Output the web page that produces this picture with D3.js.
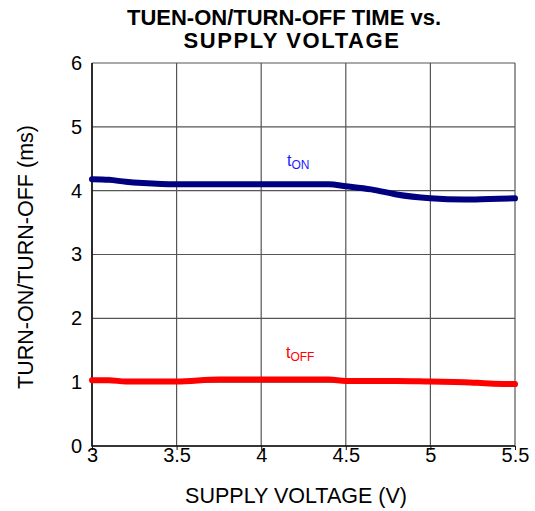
<html>
  <head>
    <meta charset="utf-8" />
    <title>Turn-on/Turn-off Time vs. Supply Voltage</title>
    <script src="https://d3js.org/d3.v7.min.js"></script>
    <style>
      body {
        margin: 0;
        background: #fff;
      }
      text {
        font-family: "Liberation Sans", Arial, sans-serif;
      }
    </style>
  </head>
  <body>
    <svg id="chart"></svg>
    <script>
      // data
      var voltage = [3.0, 3.1, 3.2, 3.3, 3.5, 3.75, 4.0, 4.2, 4.4, 4.5, 4.65, 4.8, 5.0, 5.2, 5.35, 5.5];
      var tOn = [4.18, 4.17, 4.14, 4.12, 4.10, 4.10, 4.10, 4.10, 4.10, 4.07, 4.02, 3.94, 3.88, 3.86, 3.87, 3.88];
      var tOff = [1.03, 1.03, 1.01, 1.01, 1.01, 1.04, 1.04, 1.04, 1.04, 1.02, 1.02, 1.02, 1.01, 1.00, 0.98, 0.97];
      var xTicks = [3, 3.5, 4, 4.5, 5, 5.5];
      var yTicks = [0, 1, 2, 3, 4, 5, 6];

      var width = 535;
      var height = 511;
      var margin = { top: 63, right: 20, bottom: 65, left: 92 };

      var svg = d3.select("#chart")
        .attr("width", width)
        .attr("height", height);

      var x = d3.scaleLinear()
        .domain([3, 5.5])
        .range([margin.left, width - margin.right]);

      var y = d3.scaleLinear()
        .domain([0, 6])
        .range([height - margin.bottom, margin.top]);

      // grid
      svg.append("g")
        .selectAll("line.v")
        .data(xTicks)
        .enter().append("line")
        .attr("x1", function(d) { return x(d); })
        .attr("x2", function(d) { return x(d); })
        .attr("y1", y(0))
        .attr("y2", y(6))
        .attr("stroke", "#555")
        .attr("stroke-width", 1.2);

      svg.append("g")
        .selectAll("line.h")
        .data(yTicks)
        .enter().append("line")
        .attr("x1", x(3))
        .attr("x2", x(5.5))
        .attr("y1", function(d) { return y(d); })
        .attr("y2", function(d) { return y(d); })
        .attr("stroke", "#555")
        .attr("stroke-width", 1.2);

      // left and bottom frame
      svg.append("path")
        .attr("d", "M" + x(3) + "," + y(6) + "V" + y(0) + "H" + x(5.5))
        .attr("fill", "none")
        .attr("stroke", "#111")
        .attr("stroke-width", 1.6);

      // axes
      var xAxis = d3.axisBottom(x)
        .tickValues(xTicks)
        .tickSize(4)
        .tickFormat(d3.format("~g"));
      var gx = svg.append("g")
        .attr("transform", "translate(0," + y(0) + ")")
        .call(xAxis);
      gx.select(".domain").remove();
      gx.selectAll("line").attr("stroke", "#111");
      gx.selectAll("text")
        .attr("font-size", 20)
        .attr("fill", "#000")
        .attr("dy", "0.45em");

      var yAxis = d3.axisLeft(y)
        .tickValues(yTicks)
        .tickSize(0)
        .tickPadding(10)
        .tickFormat(d3.format("d"));
      var gy = svg.append("g")
        .attr("transform", "translate(" + x(3) + ",0)")
        .call(yAxis);
      gy.select(".domain").remove();
      gy.selectAll("text")
        .attr("font-size", 20)
        .attr("fill", "#000");

      // curves
      var line = d3.line()
        .x(function(d) { return x(d[0]); })
        .y(function(d) { return y(d[1]); })
        .curve(d3.curveMonotoneX);

      svg.append("path")
        .datum(d3.zip(voltage, tOff))
        .attr("d", line)
        .attr("fill", "none")
        .attr("stroke", "#ff0000")
        .attr("stroke-width", 6)
        .attr("stroke-linecap", "round");

      svg.append("path")
        .datum(d3.zip(voltage, tOn))
        .attr("d", line)
        .attr("fill", "none")
        .attr("stroke", "#000080")
        .attr("stroke-width", 6)
        .attr("stroke-linecap", "round");

      // series labels
      var onLabel = svg.append("text")
        .attr("x", 287)
        .attr("y", 166)
        .attr("fill", "#1a1aff")
        .attr("font-size", 16);
      onLabel.append("tspan").text("t");
      onLabel.append("tspan").attr("font-size", 12).attr("dy", 3).text("ON");

      var offLabel = svg.append("text")
        .attr("x", 286)
        .attr("y", 358)
        .attr("fill", "#ff0000")
        .attr("font-size", 16);
      offLabel.append("tspan").text("t");
      offLabel.append("tspan").attr("font-size", 12).attr("dy", 3).text("OFF");

      // titles
      svg.append("text")
        .attr("x", 284)
        .attr("y", 25)
        .attr("text-anchor", "middle")
        .attr("font-size", 22)
        .attr("font-weight", "bold")
        .text("TUEN-ON/TURN-OFF TIME vs.");
      svg.append("text")
        .attr("x", 292)
        .attr("y", 48)
        .attr("text-anchor", "middle")
        .attr("font-size", 22)
        .attr("font-weight", "bold")
        .attr("letter-spacing", 1.6)
        .text("SUPPLY VOLTAGE");

      svg.append("text")
        .attr("x", 296)
        .attr("y", 503)
        .attr("text-anchor", "middle")
        .attr("font-size", 21.5)
        .text("SUPPLY VOLTAGE (V)");

      svg.append("text")
        .attr("transform", "translate(33," + 257 + ") rotate(-90)")
        .attr("text-anchor", "middle")
        .attr("font-size", 21.5)
        .text("TURN-ON/TURN-OFF (ms)");
    </script>
  </body>
</html>
